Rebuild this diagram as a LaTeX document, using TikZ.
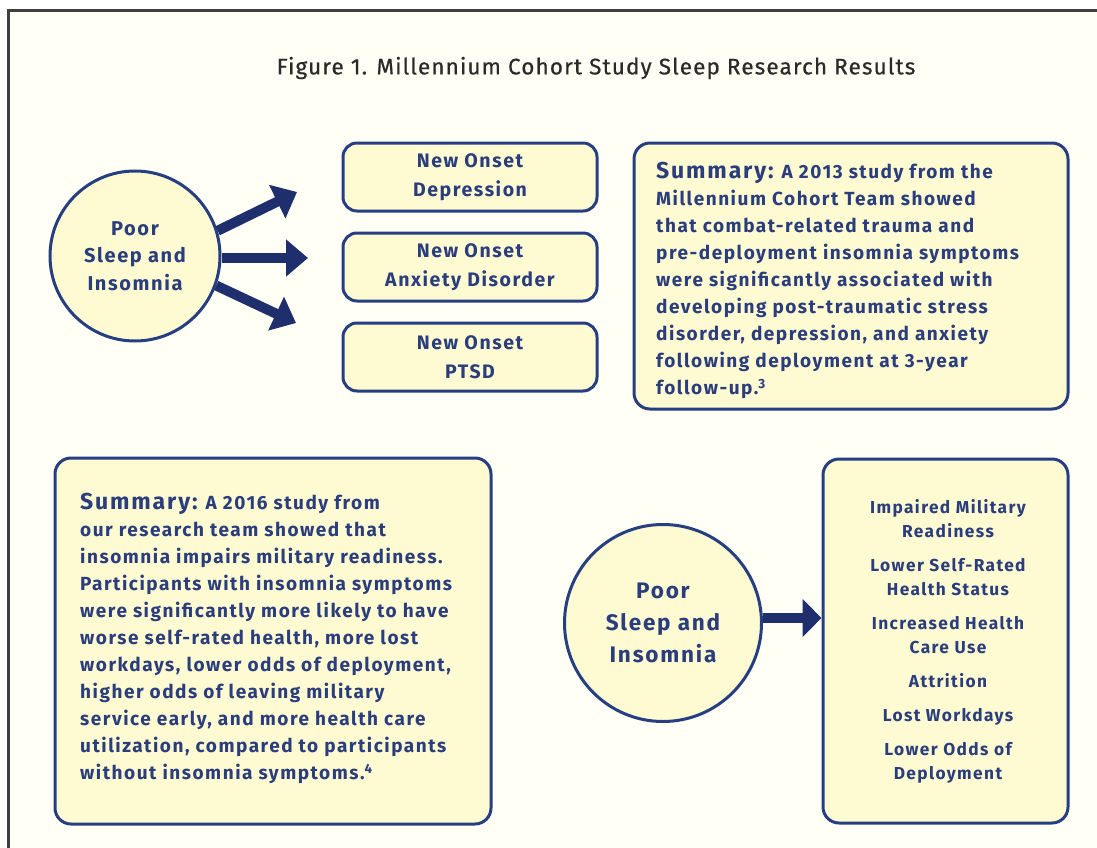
\documentclass[tikz,border=0pt]{standalone}
\usepackage{fontspec}
\setmainfont{Fira Sans}[LetterSpace=8]
\newfontfamily\titlefont{Fira Sans}[LetterSpace=5, FakeBold=0.6]
\usetikzlibrary{arrows.meta}

\definecolor{navy}{HTML}{263E82}
\definecolor{navytext}{HTML}{2A3D7C}
\definecolor{arrownavy}{HTML}{1F2E6C}
\definecolor{boxfill}{HTML}{FEFAD2}
\definecolor{pagefill}{HTML}{FFFFF5}
\definecolor{titlegray}{HTML}{2A2A2A}

\tikzset{
  onsetbox/.style={draw=navy, line width=3pt, fill=boxfill, rounded corners=14pt,
    minimum width=254pt, minimum height=68pt, text=navytext, align=center,
    font=\bfseries\fontsize{19.5}{29}\selectfont},
  summarybox/.style={draw=navy, line width=3pt, fill=boxfill, rounded corners=16pt},
  summarytext/.style={anchor=north west, inner sep=0pt, text=navytext, align=left,
    font=\bfseries\fontsize{19}{27}\selectfont},
  sleepcircle/.style={circle, draw=navy, line width=3pt, fill=boxfill, text=navytext,
    align=center, inner sep=0pt},
  bigarrow/.style={draw=arrownavy, line width=10pt, -{Triangle[length=22pt,width=36pt]}},
}

\begin{document}
\begin{tikzpicture}[x=1pt,y=-1pt]
    \useasboundingbox (0,0) rectangle (1097,848);
    \fill[white] (0,0) rectangle (1097,848);
    \fill[pagefill] (8,11) rectangle (1097,848);
    \draw[titlegray!90, line width=3pt] (8,848) -- (8,11) -- (1097,11);

    % title
    \node[text=titlegray, font=\titlefont\fontsize{22.5}{25}\selectfont] (title) at (596,68)
        {Figure 1. Millennium Cohort Study Sleep Research Results};

    % top row
    \node[sleepcircle, minimum size=170pt, font=\bfseries\fontsize{20}{27.5}\selectfont]
        (poorA) at (135,256) {Poor\\Sleep and\\Insomnia};

    \node[onsetbox] (dep) at (470,177) {New Onset\\Depression};
    \node[onsetbox] (anx) at (470,267) {New Onset\\Anxiety Disorder};
    \node[onsetbox] (ptsd) at (470,357) {New Onset\\PTSD};

    \coordinate (tipA) at (297,192);
    \coordinate (tipB) at (308,258);
    \coordinate (tipC) at (296,323);
    \draw[bigarrow] (poorA.17) -- (tipA);
    \draw[bigarrow] (poorA.east |- tipB) -- (tipB);
    \draw[bigarrow] (poorA.-20) -- (tipC);

    \node[summarybox, minimum width=434pt, minimum height=266pt] (sumA) at (851,276) {};
    \node[summarytext] (sumAtext) at (656,162)
        {{\fontsize{23}{27}\selectfont Summary:} A 2013 study from the\\
         Millennium Cohort Team showed\\
         that combat-related trauma and\\
         pre-deployment insomnia symptoms\\
         were significantly associated with\\
         developing post-traumatic stress\\
         disorder, depression, and anxiety\\
         following deployment at 3-year\\
         follow-up.\textsuperscript{3}};

    % bottom row
    \node[summarybox, minimum width=436pt, minimum height=366pt] (sumB) at (273,641) {};
    \node[summarytext] (sumBtext) at (80,493)
        {{\fontsize{23}{27}\selectfont Summary:} A 2016 study from\\
         our research team showed that\\
         insomnia impairs military readiness.\\
         Participants with insomnia symptoms\\
         were significantly more likely to have\\
         worse self-rated health, more lost\\
         workdays, lower odds of deployment,\\
         higher odds of leaving military\\
         service early, and more health care\\
         utilization, compared to participants\\
         without insomnia symptoms.\textsuperscript{4}};

    \node[sleepcircle, minimum size=197pt, font=\bfseries\fontsize{22.5}{32}\selectfont]
        (poorB) at (663,623) {Poor\\Sleep and\\Insomnia};

    \node[summarybox, minimum width=245pt, minimum height=364pt] (impacts) at (945.5,641) {};
    \node[text=navytext, align=center, font=\bfseries\fontsize{17.3}{24}\selectfont]
        (impactlist) at (948,641)
        {Impaired Military\\Readiness\\[10pt]
         Lower Self-Rated\\Health Status\\[10pt]
         Increased Health\\Care Use\\[10pt]
         Attrition\\[10pt]
         Lost Workdays\\[10pt]
         Lower Odds of\\Deployment};

    \draw[draw=arrownavy, line width=10pt, -{Triangle[length=19pt,width=37pt]}]
        (poorB.east |- 0,618) -- (impacts.west |- 0,618);
\end{tikzpicture}
\end{document}
